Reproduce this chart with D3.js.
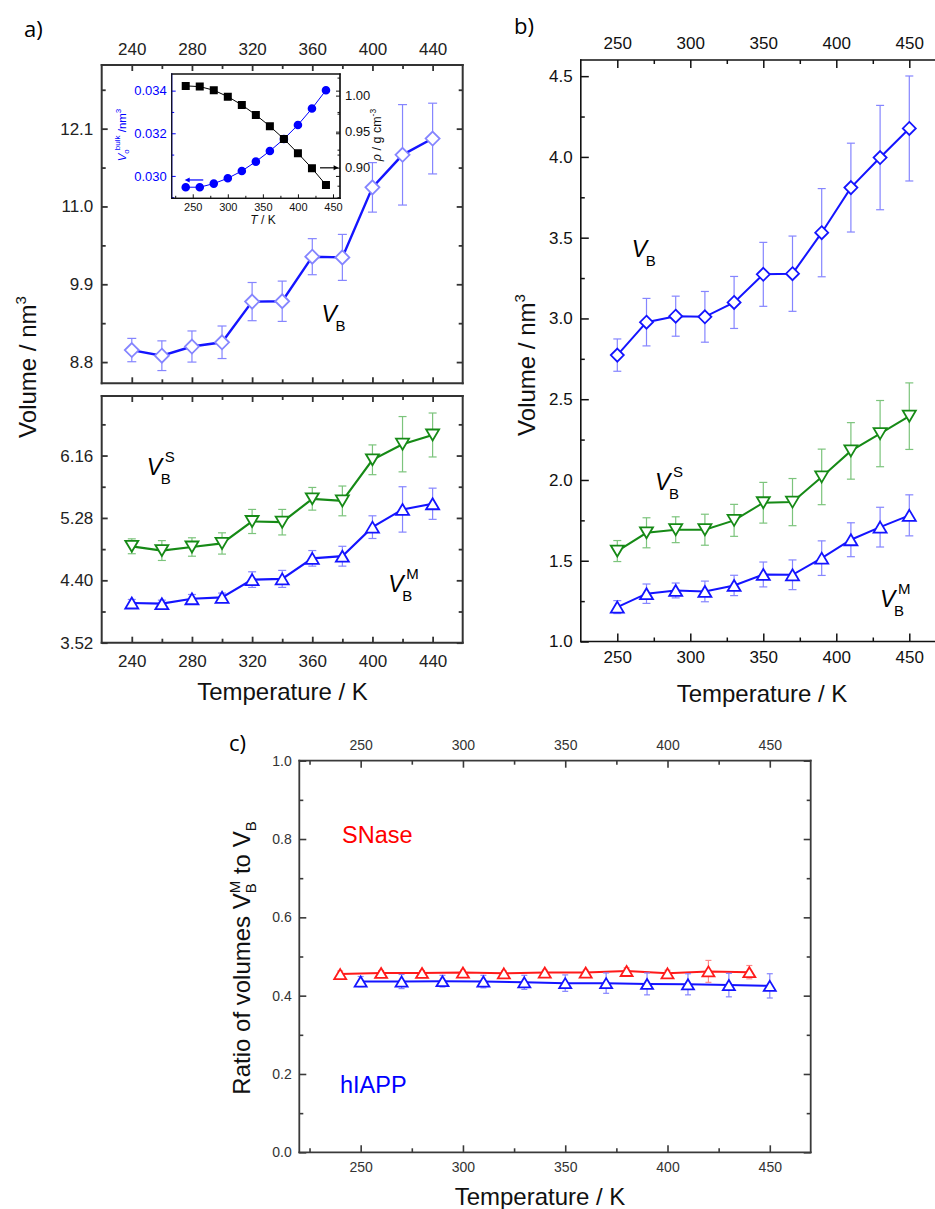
<!DOCTYPE html>
<html>
<head>
<meta charset="utf-8">
<script src="https://cdn.jsdelivr.net/npm/d3@7"></script>
<style>
  body { margin: 0; background: #fff; }
  svg { display: block; font-family: "Liberation Sans", Arial, sans-serif; }
</style>
</head>
<body>
<svg id="fig" width="935" height="1209"></svg>
<script>
// ---------------- data ----------------
// Panel a: temperatures and volumes (nm^3)
const tempA = [240, 260, 280, 300, 320, 340, 360, 380, 400, 420, 440];
const vbA = [8.97, 8.89, 9.02, 9.08, 9.655, 9.66, 10.29, 10.28, 11.27, 11.73, 11.96];
const vbAErr = [0.165, 0.21, 0.22, 0.23, 0.27, 0.285, 0.255, 0.325, 0.35, 0.71, 0.50];
const vbsA = [4.88, 4.82, 4.87, 4.92, 5.23, 5.22, 5.55, 5.52, 6.10, 6.32, 6.45];
const vbsAErr = [0.105, 0.14, 0.13, 0.15, 0.17, 0.18, 0.16, 0.21, 0.21, 0.39, 0.31];
const vbmA = [4.08, 4.07, 4.14, 4.16, 4.41, 4.42, 4.71, 4.74, 5.15, 5.40, 5.48];
const vbmAErr = [0.05, 0.05, 0.06, 0.06, 0.11, 0.12, 0.11, 0.14, 0.16, 0.32, 0.22];

// Inset of panel a: bulk water molecular volume and density
const bulkVol = [0.02947, 0.02947, 0.02964, 0.02989, 0.03023, 0.03067, 0.03117, 0.03173, 0.03239, 0.03316, 0.03402];
const density = [1.0135, 1.0125, 1.0075, 0.9986, 0.9871, 0.9732, 0.9575, 0.9399, 0.9200, 0.8992, 0.8760];

// Panel b
const tempB = [250, 270, 290, 310, 330, 350, 370, 390, 410, 430, 450];
const vbB = [2.773, 2.977, 3.014, 3.01, 3.099, 3.273, 3.277, 3.531, 3.81, 3.996, 4.176];
const vbBErr = [0.10, 0.147, 0.124, 0.157, 0.161, 0.198, 0.233, 0.273, 0.275, 0.323, 0.325];
const vbsB = [1.56, 1.673, 1.692, 1.692, 1.75, 1.859, 1.863, 2.019, 2.18, 2.287, 2.395];
const vbsBErr = [0.065, 0.093, 0.08, 0.096, 0.099, 0.126, 0.146, 0.172, 0.175, 0.205, 0.206];
const vbmB = [1.213, 1.296, 1.316, 1.31, 1.347, 1.415, 1.413, 1.516, 1.63, 1.708, 1.781];
const vbmBErr = [0.04, 0.06, 0.046, 0.064, 0.063, 0.077, 0.092, 0.107, 0.105, 0.123, 0.127];

// Panel c: ratio V_B^M / V_B
const tempSNase = [240, 260, 280, 300, 320, 340, 360, 380, 400, 420, 440];
const ratioSNase = [0.455, 0.458, 0.458, 0.459, 0.457, 0.459, 0.459, 0.463, 0.457, 0.462, 0.460];
const ratioSNaseErr = [0.008, 0.006, 0.006, 0.006, 0.006, 0.006, 0.006, 0.008, 0.008, 0.028, 0.017];
const tempHIAPP = [250, 270, 290, 310, 330, 350, 370, 390, 410, 430, 450];
const ratioHIAPP = [0.436, 0.436, 0.437, 0.436, 0.434, 0.432, 0.432, 0.430, 0.429, 0.427, 0.425];
const ratioHIAPPErr = [0.013, 0.018, 0.015, 0.016, 0.018, 0.021, 0.026, 0.028, 0.027, 0.030, 0.031];

// Tick values
const ticksAX = [240, 280, 320, 360, 400, 440];
const minorAX = [260, 300, 340, 380, 420];
const ticksAUpper = [8.8, 9.9, 11.0, 12.1];
const minorAUpper = [9.35, 10.45, 11.55, 12.65];
const ticksALower = [3.52, 4.40, 5.28, 6.16];
const minorALower = [3.96, 4.84, 5.72, 6.60];
const ticksInsetX = [250, 300, 350, 400, 450];
const minorInsetX = [225, 275, 325, 375, 425];
const ticksInsetL = [0.030, 0.032, 0.034];
const minorInsetL = [0.029, 0.031, 0.033];
const ticksInsetR = [0.90, 0.95, 1.00];
const minorInsetR = [0.875, 0.925, 0.975, 1.025];
const ticksBX = [250, 300, 350, 400, 450];
const minorBX = [275, 325, 375, 425];
const ticksBY = [1.0, 1.5, 2.0, 2.5, 3.0, 3.5, 4.0, 4.5];
const minorBY = [1.25, 1.75, 2.25, 2.75, 3.25, 3.75, 4.25];
const ticksCX = [250, 300, 350, 400, 450];
const minorCX = [225, 275, 325, 375, 425];
const ticksCY = [0.0, 0.2, 0.4, 0.6, 0.8, 1.0];
const minorCY = [0.1, 0.3, 0.5, 0.7, 0.9];

// ---------------- helpers ----------------
const svg = d3.select("#fig");

// Frame with inward ticks on all four sides
function drawAxes(g, x, y, o) {
  const [L, R] = x.range(), [B, T] = y.range();
  const sides = o.sides || ["top", "bottom", "left", "right"];
  const defs = {
    top:    { fn: d3.axisTop,    s: x, major: o.xMajor, minor: o.xMinor, tr: [0, T], fmt: o.fmtX },
    bottom: { fn: d3.axisBottom, s: x, major: o.xMajor, minor: o.xMinor, tr: [0, B], fmt: o.fmtX },
    left:   { fn: d3.axisLeft,   s: y, major: o.yMajor, minor: o.yMinor, tr: [L, 0], fmt: o.fmtY },
    right:  { fn: d3.axisRight,  s: y, major: o.yMajor2 || o.yMajor, minor: o.yMinor2 || o.yMinor, tr: [R, 0], fmt: o.fmtY2 || o.fmtY }
  };
  sides.forEach(side => {
    const d = defs[side];
    const col = (o.sideColor && o.sideColor[side]) || o.color;
    const tcol = (o.sideColor && o.sideColor[side]) || o.textColor;
    const lab = o.labels[side];
    [[d.minor, o.minorLen, false], [d.major, o.majorLen, lab]].forEach(([vals, len, on]) => {
      if (!vals || !vals.length) return;
      const ax = d.fn(d.s).tickValues(vals).tickSize(-len)
        .tickPadding((o.pad && o.pad[side]) || 6)
        .tickFormat(on ? d.fmt : () => "");
      const a = g.append("g").attr("transform", `translate(${d.tr})`).call(ax)
        .attr("font-size", null).attr("font-family", null);
      a.select(".domain").remove();
      a.selectAll(".tick line").attr("stroke", col).attr("stroke-width", o.tickW);
      if (on) a.selectAll(".tick text").attr("font-size", o.font).attr("fill", tcol);
      else a.selectAll(".tick text").remove();
    });
  });
  const fr = g.append("g").attr("fill", "none").attr("stroke-width", o.frameW);
  const edge = (x1, y1, x2, y2, side) =>
    fr.append("line").attr("x1", x1).attr("y1", y1).attr("x2", x2).attr("y2", y2)
      .attr("stroke", (o.sideColor && o.sideColor[side]) || o.color)
      .attr("stroke-linecap", "square");
  edge(L, T, R, T, "top");
  edge(L, B, R, B, "bottom");
  edge(R, T, R, B, "right");
  edge(L, T, L, B, "left");
}

const diamond = s => `M0,${-s}L${s},0L0,${s}L${-s},0Z`;
const triUp = (w, h) => `M0,${-h / 2}L${w / 2},${h / 2}L${-w / 2},${h / 2}Z`;
const triDown = (w, h) => `M0,${h / 2}L${w / 2},${-h / 2}L${-w / 2},${-h / 2}Z`;
const square = s => `M${-s},${-s}H${s}V${s}H${-s}Z`;
const circle = r => `M${-r},0A${r},${r} 0 1,0 ${r},0A${r},${r} 0 1,0 ${-r},0Z`;

// Line + optional error bars + markers
function drawSeries(g, x, y, xs, ys, errs, o) {
  const pts = xs.map((t, i) => [t, ys[i], errs ? errs[i] : 0]);
  if (errs) {
    const eb = g.append("g").attr("stroke", o.errColor).attr("stroke-width", o.errW || 1.2);
    pts.forEach(([t, v, e]) => {
      const cx = x(t), ya = y(v - e), yb = y(v + e), c = o.cap / 2;
      eb.append("line").attr("x1", cx).attr("x2", cx).attr("y1", ya).attr("y2", yb);
      eb.append("line").attr("x1", cx - c).attr("x2", cx + c).attr("y1", ya).attr("y2", ya);
      eb.append("line").attr("x1", cx - c).attr("x2", cx + c).attr("y1", yb).attr("y2", yb);
    });
  }
  g.append("path").datum(pts)
    .attr("d", d3.line().x(d => x(d[0])).y(d => y(d[1])))
    .attr("fill", "none").attr("stroke", o.lineColor).attr("stroke-width", o.lineW);
  g.selectAll(null).data(pts).join("path")
    .attr("d", o.symbol)
    .attr("transform", d => `translate(${x(d[0])},${y(d[1])})`)
    .attr("fill", o.fill || "#fff")
    .attr("stroke", o.markColor || o.lineColor)
    .attr("stroke-width", o.markW || 1.8);
}

// V_B label with optional superscript
function vbLabel(g, px, py, sup, color) {
  const t = g.append("g").attr("fill", color || "#000");
  t.append("text").attr("x", px).attr("y", py).attr("font-style", "italic").attr("font-size", 23).text("V");
  t.append("text").attr("x", px + 14).attr("y", py + 9).attr("font-size", 15).text("B");
  if (sup) t.append("text").attr("x", px + 18).attr("y", py - 13).attr("font-size", 15).text(sup);
}

function panelLetter(txt, px, py) {
  svg.append("text").attr("x", px).attr("y", py).attr("font-family", '"Open Sans", sans-serif')
    .attr("font-size", 22).attr("fill", "#000").text(txt);
}

function volumeTitle(cx, cy) {
  const t = svg.append("text").attr("transform", `translate(${cx},${cy}) rotate(-90)`)
    .attr("text-anchor", "middle").attr("font-size", 24).attr("fill", "#111");
  t.append("tspan").text("Volume / nm");
  t.append("tspan").attr("font-size", 15).attr("dy", -10).text("3");
}

const BLUE = "#1414ff", LBLUE = "#8585ff", GREEN = "#168a16", LGREEN = "#7cc47c";
const RED = "#ff1a1a", LRED = "#ff8a8a";

// ---------------- panel a ----------------
const gA = svg.append("g");
const xA = d3.scaleLinear().domain([220, 460]).range([101.7, 462.7]);
const yAu = d3.scaleLinear().domain([8.5, 13.0]).range([383.3, 65]);
const yAl = d3.scaleLinear().domain([3.52, 7.0]).range([642.7, 396]);

const styleA = { color: "#333", textColor: "#222", font: 17, tickW: 1.8, frameW: 2,
  majorLen: 6, minorLen: 4, fmtX: d3.format("d") };

drawAxes(gA.append("g"), xA, yAu, Object.assign({}, styleA, {
  xMajor: ticksAX, xMinor: minorAX, yMajor: ticksAUpper, yMinor: minorAUpper,
  fmtY: d3.format(".1f"), labels: { top: true, left: true }, pad: { top: 9.6, left: 8.4 }
}));
drawAxes(gA.append("g"), xA, yAl, Object.assign({}, styleA, {
  xMajor: ticksAX, xMinor: minorAX, yMajor: ticksALower, yMinor: minorALower,
  fmtY: d3.format(".2f"), labels: { bottom: true, left: true }, pad: { bottom: 11.9, left: 8.4 }
}));

drawSeries(gA, xA, yAu, tempA, vbA, vbAErr, {
  errColor: LBLUE, cap: 9, lineColor: BLUE, lineW: 2.4, symbol: diamond(7),
  markColor: LBLUE, markW: 1.8 });
drawSeries(gA, xA, yAl, tempA, vbsA, vbsAErr, {
  errColor: LGREEN, cap: 8, lineColor: GREEN, lineW: 2.2, symbol: triDown(13, 11), markW: 1.8 });
drawSeries(gA, xA, yAl, tempA, vbmA, vbmAErr, {
  errColor: LBLUE, cap: 8, lineColor: BLUE, lineW: 2.2, symbol: triUp(13, 11), markW: 1.8 });

vbLabel(gA, xA(366.2), yAu(9.37));
vbLabel(gA, xA(249.9), yAl(5.886), "S");
vbLabel(gA, xA(410.5), yAl(4.239), "M");

// Inset: bulk water
const gI = gA.append("g");
const xIn = d3.scaleLinear().domain([220, 460]).range([171.7, 340]);
const yInL = d3.scaleLinear().domain([0.02895, 0.03478]).range([198.3, 74]);
const yInR = d3.scaleLinear().domain([0.8575, 1.030]).range([198.3, 74]);
gI.append("rect").attr("x", 171.7).attr("y", 74).attr("width", 340 - 171.7).attr("height", 198.3 - 74)
  .attr("fill", "#fff");
drawAxes(gI.append("g"), xIn, yInL, {
  color: "#111", textColor: "#111", font: 13, tickW: 1, frameW: 1.2, majorLen: 4, minorLen: 2.5,
  sides: ["bottom", "left", "right"], sideColor: { left: "#0000ff" },
  xMajor: ticksInsetX, xMinor: minorInsetX, yMajor: ticksInsetL, yMinor: minorInsetL,
  fmtX: d3.format("d"), fmtY: d3.format(".3f"), labels: { left: true }, pad: { left: 5 }
});
// right axis (density) on its own scale
drawAxes(gI.append("g"), xIn, yInR, {
  color: "#111", textColor: "#111", font: 13, tickW: 1, frameW: 1.2, majorLen: 4, minorLen: 2.5,
  sides: ["right"], yMajor: ticksInsetR, yMinor: minorInsetR,
  fmtY: d3.format(".2f"), labels: { right: true }, pad: { right: 5 }
});
// bottom tick labels smaller
gI.append("g").attr("transform", `translate(0,198.3)`)
  .call(d3.axisBottom(xIn).tickValues(ticksInsetX).tickSize(0).tickPadding(4.5).tickFormat(d3.format("d")))
  .attr("font-size", null).attr("font-family", null)
  .call(a => a.select(".domain").remove())
  .call(a => a.selectAll("text").attr("font-size", 11).attr("fill", "#111"));

drawSeries(gI, xIn, yInL, tempA, bulkVol, null, {
  lineColor: "#0000ff", lineW: 1, symbol: circle(3.4), fill: "#0000ff", markColor: "#0000ff", markW: 0 });
drawSeries(gI, xIn, yInR, tempA, density, null, {
  lineColor: "#000", lineW: 1, symbol: square(3.1), fill: "#000", markColor: "#000", markW: 0 });

// axis arrows
const arrowHead = (g, x1, y1, x2, col) => {
  const dir = Math.sign(x2 - x1);
  g.append("line").attr("x1", x1).attr("y1", y1).attr("x2", x2 - dir * 3).attr("y2", y1)
    .attr("stroke", col).attr("stroke-width", 1.2);
  g.append("path").attr("d", `M${x2},${y1}L${x2 - dir * 5},${y1 - 2.5}L${x2 - dir * 5},${y1 + 2.5}Z`).attr("fill", col);
};
arrowHead(gI, xIn(265), yInL(0.02981), xIn(238.5), "#0000ff");
arrowHead(gI, xIn(431.5), yInR(0.8998), xIn(458), "#000");

// inset titles
const tT = gI.append("text").attr("x", 263).attr("y", 224).attr("text-anchor", "middle")
  .attr("font-size", 12).attr("fill", "#111");
tT.append("tspan").attr("font-style", "italic").text("T");
tT.append("tspan").text(" / K");
const tL = gI.append("text").attr("transform", "translate(126,135) rotate(-90)")
  .attr("text-anchor", "middle").attr("font-size", 11.5).attr("fill", "#0000ff");
tL.append("tspan").attr("font-style", "italic").text("V");
tL.append("tspan").attr("font-size", 8).attr("dy", 3).text("o");
tL.append("tspan").attr("font-size", 8).attr("dy", -9).attr("dx", -1).text("bulk");
tL.append("tspan").attr("dy", 6).text(" /nm");
tL.append("tspan").attr("font-size", 8).attr("dy", -5).text("3");
const tR = gI.append("text").attr("transform", "translate(381,135) rotate(-90)")
  .attr("text-anchor", "middle").attr("font-size", 12.5).attr("fill", "#111");
tR.append("tspan").attr("font-style", "italic").text("ρ");
tR.append("tspan").text(" / g cm");
tR.append("tspan").attr("font-size", 8.5).attr("dy", -5).text("-3");

panelLetter("a)", 24, 37);
volumeTitle(36, 367);
svg.append("text").attr("x", 282.5).attr("y", 700).attr("text-anchor", "middle")
  .attr("font-size", 24).attr("fill", "#111").text("Temperature / K");

// ---------------- panel b ----------------
const gB = svg.append("g");
const xB = d3.scaleLinear().domain([225, 475]).range([580.8, 945.8]);
const yB = d3.scaleLinear().domain([1.0, 4.6]).range([641.5, 60]);
drawAxes(gB.append("g"), xB, yB, {
  color: "#111", textColor: "#111", font: 17, tickW: 1.5, frameW: 1.6, majorLen: 8, minorLen: 4,
  xMajor: ticksBX, xMinor: minorBX, yMajor: ticksBY, yMinor: minorBY,
  fmtX: d3.format("d"), fmtY: d3.format(".1f"),
  labels: { top: true, bottom: true, left: true }, pad: { top: 11.2, bottom: 9.7, left: 8.1 }
});
drawSeries(gB, xB, yB, tempB, vbB, vbBErr, {
  errColor: LBLUE, cap: 8, lineColor: BLUE, lineW: 2, symbol: diamond(6.5), markW: 1.8 });
drawSeries(gB, xB, yB, tempB, vbsB, vbsBErr, {
  errColor: LGREEN, cap: 8, lineColor: GREEN, lineW: 2, symbol: triDown(13, 11), markW: 1.8 });
drawSeries(gB, xB, yB, tempB, vbmB, vbmBErr, {
  errColor: LBLUE, cap: 8, lineColor: BLUE, lineW: 2, symbol: triUp(13, 11), markW: 1.8 });
vbLabel(gB, xB(259.9), yB(3.38));
vbLabel(gB, xB(275.8), yB(1.938), "S");
vbLabel(gB, xB(429.9), yB(1.215), "M");

panelLetter("b)", 514, 34);
volumeTitle(535, 365);
svg.append("text").attr("x", 762).attr("y", 702).attr("text-anchor", "middle")
  .attr("font-size", 24).attr("fill", "#111").text("Temperature / K");

// ---------------- panel c ----------------
const gC = svg.append("g");
const xC = d3.scaleLinear().domain([220, 470]).range([299.3, 810.7]);
const yC = d3.scaleLinear().domain([0, 1]).range([1152.3, 760.7]);
drawAxes(gC.append("g"), xC, yC, {
  color: "#3a3a3a", textColor: "#333", font: 14, tickW: 1.6, frameW: 1.8, majorLen: 7, minorLen: 4,
  xMajor: ticksCX, xMinor: minorCX, yMajor: ticksCY, yMinor: minorCY,
  fmtX: d3.format("d"), fmtY: d3.format(".1f"),
  labels: { top: true, bottom: true, left: true }, pad: { top: 10.7, bottom: 9.5, left: 7.6 }
});
drawSeries(gC, xC, yC, tempSNase, ratioSNase, ratioSNaseErr, {
  errColor: LRED, cap: 6, lineColor: RED, lineW: 2, symbol: triUp(12, 10), markW: 1.8 });
drawSeries(gC, xC, yC, tempHIAPP, ratioHIAPP, ratioHIAPPErr, {
  errColor: LBLUE, cap: 6, lineColor: BLUE, lineW: 2, symbol: triUp(12, 10), markW: 1.8 });

gC.append("text").attr("x", xC(240.9)).attr("y", yC(0.789)).attr("font-size", 23.5)
  .attr("fill", "#ff0000").text("SNase");
gC.append("text").attr("x", xC(239.9)).attr("y", yC(0.151)).attr("font-size", 23.5)
  .attr("fill", "#0000ff").text("hIAPP");

panelLetter("c)", 229, 751);
const tC = svg.append("text").attr("transform", "translate(250,958) rotate(-90)")
  .attr("text-anchor", "middle").attr("font-size", 24).attr("fill", "#111");
tC.append("tspan").text("Ratio of volumes V");
tC.append("tspan").attr("font-size", 15).attr("dy", 6).text("B");
tC.append("tspan").attr("font-size", 15).attr("dx", -10).attr("dy", -16).text("M");
tC.append("tspan").attr("dy", 10).text(" to V");
tC.append("tspan").attr("font-size", 15).attr("dy", 6).text("B");
svg.append("text").attr("x", 540).attr("y", 1205).attr("text-anchor", "middle")
  .attr("font-size", 24).attr("fill", "#111").text("Temperature / K");
</script>
</body>
</html>
